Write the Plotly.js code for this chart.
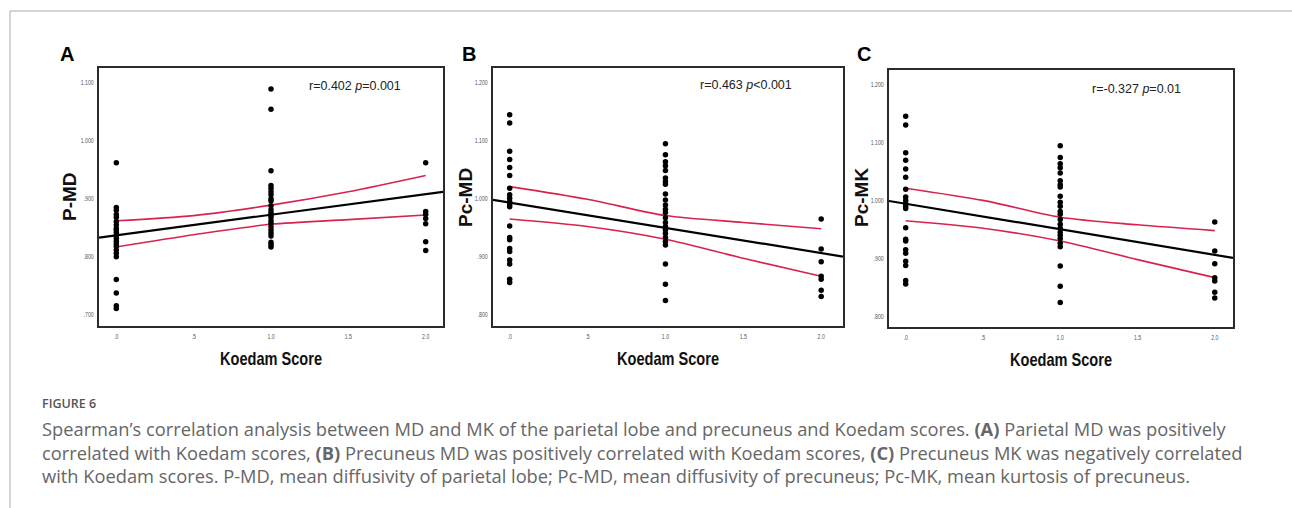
<!DOCTYPE html>
<html>
<head>
<meta charset="utf-8">
<script src="https://cdn.plot.ly/plotly-3.0.1.min.js"></script>
<style>
html,body{margin:0;padding:0;background:#fff;}
#chart{width:1292px;height:508px;}
</style>
</head>
<body>
<div id="chart"></div>
<script>
// ---------- DATA ----------
const scoreCats = [0, 1, 2];
const xTickVals = [0, 0.5, 1, 1.5, 2];
const xTickText = ['.0', '.5', '1.0', '1.5', '2.0'];

// Panel A: P-MD by Koedam score
const pmd0 = [0.962, 0.885, 0.880, 0.873, 0.868, 0.861, 0.855, 0.849, 0.846, 0.842, 0.837, 0.832, 0.827, 0.822, 0.818, 0.812, 0.806, 0.800, 0.761, 0.738, 0.716, 0.711];
const pmd1 = [1.089, 1.054, 0.948, 0.923, 0.918, 0.912, 0.907, 0.900, 0.896, 0.888, 0.881, 0.876, 0.872, 0.868, 0.862, 0.858, 0.852, 0.846, 0.841, 0.836, 0.825, 0.821, 0.817];
const pmd2 = [0.962, 0.878, 0.873, 0.866, 0.857, 0.826, 0.811];
const fitXA = [-0.112, 2.112];
const fitYA = [0.833, 0.912];
const ciX = [0, 0.5, 1, 1.5, 2];
const ciUpA = [0.862, 0.871, 0.889, 0.912, 0.940];
const ciLoA = [0.817, 0.838, 0.856, 0.864, 0.872];
const yTickValsA = [0.7, 0.8, 0.9, 1.0, 1.1];
const yTickTextA = ['.700', '.800', '.900', '1.000', '1.100'];

// Panel B: Pc-MD by Koedam score
const pcmd0 = [1.145, 1.131, 1.082, 1.068, 1.054, 1.040, 1.018, 1.007, 1.001, 0.995, 0.990, 0.986, 0.953, 0.933, 0.929, 0.914, 0.909, 0.894, 0.887, 0.861, 0.855];
const pcmd1 = [1.095, 1.076, 1.064, 1.057, 1.049, 1.036, 1.030, 1.025, 1.008, 0.998, 0.989, 0.982, 0.976, 0.967, 0.959, 0.952, 0.946, 0.940, 0.933, 0.926, 0.920, 0.887, 0.852, 0.824];
const pcmd2 = [0.965, 0.913, 0.891, 0.866, 0.861, 0.842, 0.831];
const fitXB = [-0.107, 2.14];
const fitYB = [0.998, 0.900];
const ciUpB = [1.021, 0.999, 0.971, 0.959, 0.948];
const ciLoB = [0.965, 0.952, 0.930, 0.897, 0.866];

// Panel C: Pc-MK by Koedam score
const pcmk0 = [1.146, 1.131, 1.083, 1.070, 1.055, 1.041, 1.020, 1.007, 1.001, 0.995, 0.991, 0.987, 0.954, 0.934, 0.931, 0.916, 0.910, 0.896, 0.889, 0.863, 0.857];
const pcmk1 = [1.095, 1.075, 1.064, 1.057, 1.048, 1.035, 1.028, 1.024, 1.008, 0.998, 0.991, 0.982, 0.977, 0.968, 0.960, 0.953, 0.946, 0.941, 0.935, 0.927, 0.921, 0.888, 0.853, 0.825];
const pcmk2 = [0.964, 0.914, 0.892, 0.868, 0.862, 0.843, 0.833];
const fitXC = [-0.108, 2.118];
const fitYC = [1.000, 0.902];
const ciUpC = [1.022, 1.001, 0.972, 0.959, 0.949];
const ciLoC = [0.966, 0.953, 0.931, 0.899, 0.868];
const yTickValsBC = [0.8, 0.9, 1.0, 1.1, 1.2];
const yTickTextBC = ['.800', '.900', '1.000', '1.100', '1.200'];

const yTitles = ['P-MD', 'Pc-MD', 'Pc-MK'];
const xTitle = 'Koedam Score';
const panelLetters = ['A', 'B', 'C'];
const stats = ['r=0.402 <i>p</i>=0.001', 'r=0.463 <i>p</i><0.001', 'r=-0.327 <i>p</i>=0.01'];

const captionHead = 'FIGURE 6';
const captionLines = [
  'Spearman\u2019s correlation analysis between MD and MK of the parietal lobe and precuneus and Koedam scores. <b>(A)</b> Parietal MD was positively',
  'correlated with Koedam scores, <b>(B)</b> Precuneus MD was positively correlated with Koedam scores, <b>(C)</b> Precuneus MK was negatively correlated',
  'with Koedam scores. P-MD, mean diffusivity of parietal lobe; Pc-MD, mean diffusivity of precuneus; Pc-MK, mean kurtosis of precuneus.'
];

// ---------- BUILD ----------
const W = 1292, H = 508;
const px = v => v / W;
const py = v => (H - v) / H;
const RED = '#d8234f';
const arial = 'Arial, "Liberation Sans", sans-serif';
const capFont = '"Open Sans", Lato, sans-serif';

function scatterFor(groups, xa, ya) {
  const xs = [], ys = [];
  groups.forEach((g, i) => g.forEach(v => { xs.push(scoreCats[i]); ys.push(v); }));
  return {x: xs, y: ys, xaxis: xa, yaxis: ya, type: 'scatter', mode: 'markers',
    marker: {color: '#000', size: 5.5}, hoverinfo: 'x+y', showlegend: false};
}
function lineFor(x, y, xa, ya, color, w, shape) {
  return {x: x, y: y, xaxis: xa, yaxis: ya, type: 'scatter', mode: 'lines',
    line: {color: color, width: w, shape: shape || 'linear', smoothing: 0.8}, hoverinfo: 'skip', showlegend: false};
}

const traces = [
  lineFor(ciX, ciUpA, 'x', 'y', RED, 1.6, 'spline'),
  lineFor(ciX, ciLoA, 'x', 'y', RED, 1.6, 'spline'),
  lineFor(fitXA, fitYA, 'x', 'y', '#000', 2.2),
  scatterFor([pmd0, pmd1, pmd2], 'x', 'y'),
  lineFor(ciX, ciUpB, 'x2', 'y2', RED, 1.6, 'spline'),
  lineFor(ciX, ciLoB, 'x2', 'y2', RED, 1.6, 'spline'),
  lineFor(fitXB, fitYB, 'x2', 'y2', '#000', 2.2),
  scatterFor([pcmd0, pcmd1, pcmd2], 'x2', 'y2'),
  lineFor(ciX, ciUpC, 'x3', 'y3', RED, 1.6, 'spline'),
  lineFor(ciX, ciLoC, 'x3', 'y3', RED, 1.6, 'spline'),
  lineFor(fitXC, fitYC, 'x3', 'y3', '#000', 2.2),
  scatterFor([pcmk0, pcmk1, pcmk2], 'x3', 'y3')
];

function xAxis(domain, range, anchor) {
  return {domain: domain, range: range, anchor: anchor, showgrid: false, zeroline: false,
    showline: true, mirror: true, linecolor: '#2b2b2b', linewidth: 2, ticks: '',
    tickvals: xTickVals, ticktext: xTickText, ticklabelstandoff: 3,
    tickfont: {family: arial, size: 6.5, color: '#555'},
    title: {text: xTitle, standoff: 13, font: {family: arial, size: 19, color: '#111', weight: 'bold'}}};
}
function yAxis(domain, range, anchor, vals, text) {
  return {domain: domain, range: range, anchor: anchor, showgrid: false, zeroline: false,
    showline: true, mirror: true, linecolor: '#2b2b2b', linewidth: 2, ticks: '',
    tickvals: vals, ticktext: text, ticklabelstandoff: 2,
    tickfont: {family: arial, size: 6.5, color: '#555'}};
}

const annotations = [];
function addText(text, x, y, opts) {
  annotations.push(Object.assign({text: text, xref: 'paper', yref: 'paper', x: px(x), y: py(y),
    showarrow: false, xanchor: 'left', yanchor: 'middle'}, opts));
}
const letterPos = [[58, 54], [460, 54], [855, 54]];
const statPos = [[355, 86], [746, 85], [1136, 89]];
const yTitlePos = [[69, 197], [465, 198], [861, 198]];
panelLetters.forEach((l, i) => addText(l, letterPos[i][0], letterPos[i][1], {font: {family: arial, size: 20, color: '#000', weight: 'bold'}}));
stats.forEach((s, i) => addText(s, statPos[i][0], statPos[i][1], {xanchor: 'center', font: {family: arial, size: 12.5, color: '#222'}}));
yTitles.forEach((t, i) => addText(t, yTitlePos[i][0], yTitlePos[i][1], {xanchor: 'center', textangle: -90, font: {family: arial, size: 19, color: '#111', weight: 'bold'}}));
addText(captionHead, 40, 403, {font: {family: capFont, size: 12.5, color: '#555', weight: 600}});
const capY = [428, 452, 475];
captionLines.forEach((t, i) => addText(t, 40, capY[i], {font: {family: capFont, size: 18.3, color: '#666'}}));

const shapes = [
  {type: 'line', xref: 'paper', yref: 'paper', x0: px(10), x1: px(10), y0: py(11), y1: 0, line: {color: '#aaa', width: 1}},
  {type: 'line', xref: 'paper', yref: 'paper', x0: px(10), x1: 1, y0: py(11), y1: py(11), line: {color: '#aaa', width: 1}}
];

const layout = {
  width: W, height: H, margin: {l: 0, r: 0, t: 0, b: 0},
  paper_bgcolor: '#fff', plot_bgcolor: '#fff', showlegend: false,
  xaxis: xAxis([px(99), px(443)], [-0.112, 2.112], 'y'),
  yaxis: yAxis([py(326), py(68)], [0.681, 1.125], 'x', yTickValsA, yTickTextA),
  xaxis2: xAxis([px(493), px(843)], [-0.107, 2.14], 'y2'),
  yaxis2: yAxis([py(326), py(68)], [0.780, 1.226], 'x2', yTickValsBC, yTickTextBC),
  xaxis3: xAxis([px(889), px(1233)], [-0.108, 2.118], 'y3'),
  yaxis3: yAxis([py(327), py(70)], [0.783, 1.2255], 'x3', yTickValsBC, yTickTextBC),
  annotations: annotations, shapes: shapes
};

// The reference uses a narrow face for axis labels; condense single-run labels to the measured widths
function condense() {
  const gd = document.getElementById('chart');
  gd.querySelectorAll('text.xtitle, text.x2title, text.x3title').forEach(t => {
    t.setAttribute('textLength', '102');
    t.setAttribute('lengthAdjust', 'spacingAndGlyphs');
  });
  gd.querySelectorAll('.xtick text, .x2tick text, .x3tick text, .ytick text, .y2tick text, .y3tick text').forEach(t => {
    const w = t.getComputedTextLength();
    t.setAttribute('textLength', String(w * 0.8));
    t.setAttribute('lengthAdjust', 'spacingAndGlyphs');
  });
}

Plotly.newPlot('chart', traces, layout, {displayModeBar: false, staticPlot: true}).then(condense);
</script>
</body>
</html>
